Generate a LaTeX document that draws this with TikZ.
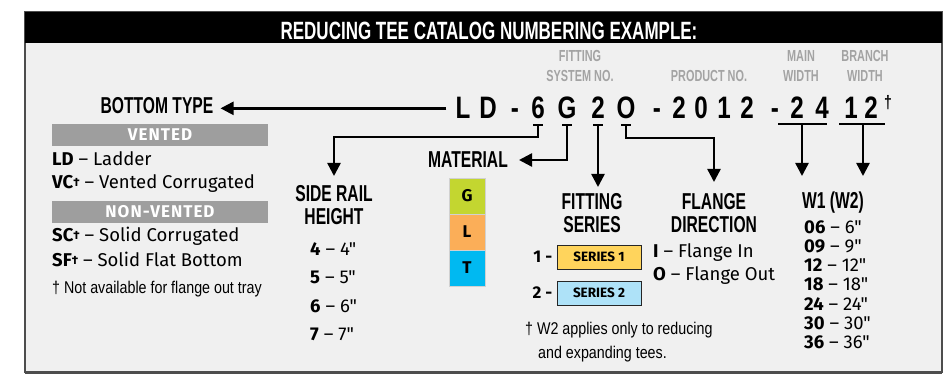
\documentclass[tikz,border=0pt]{standalone}
\usepackage{fontspec}
\setmainfont{Fira Sans}[Ligatures=TeXOff]
\newfontfamily\condfont[FakeStretch=0.68]{Liberation Sans}
\newfontfamily\codefont[FakeStretch=0.78]{Liberation Sans}
\newfontfamily\notefont[FakeStretch=0.84]{Liberation Sans}
\usetikzlibrary{arrows.meta, positioning, calc}

\definecolor{panelbg}{HTML}{F0F0F0}
\definecolor{framegray}{HTML}{4D4D4D}
\definecolor{labelgray}{HTML}{A3A3A3}
\definecolor{bargray}{HTML}{9E9E9E}
\definecolor{matG}{HTML}{C3D630}
\definecolor{matL}{HTML}{FBAE58}
\definecolor{matT}{HTML}{00B9F1}
\definecolor{seriesA}{HTML}{FFD45C}
\definecolor{seriesB}{HTML}{AEE2F8}

\newcommand{\smalldag}{\raisebox{2.5pt}{\fontsize{12}{12}\selectfont †}}

\tikzset{
  title/.style={font=\condfont\bfseries\fontsize{25}{25}\selectfont, text=white, inner sep=0pt, anchor=base},
  heading/.style={font=\condfont\bfseries\fontsize{23}{23}\selectfont, align=center, inner sep=0pt},
  graylabel/.style={font=\condfont\bfseries\fontsize{16}{16}\selectfont, text=labelgray, inner sep=0pt, anchor=base},
  codechar/.style={font=\codefont\bfseries\fontsize{31}{31}\selectfont, inner sep=0pt, anchor=base},
  item/.style={font=\fontsize{18.5}{18.5}\selectfont, inner sep=0pt, anchor=base west},
  note/.style={font=\notefont\fontsize{17}{17}\selectfont, inner sep=0pt, anchor=base west},
  catbar/.style={fill=bargray, text=white, font=\bfseries\fontsize{17}{17}\selectfont\addfontfeature{LetterSpace=6},
    minimum width=216pt, minimum height=22pt, inner sep=0pt},
  matbox/.style={fill=#1, draw=black!18, line width=0.8pt, minimum width=36pt,
    minimum height=36pt, inner sep=0pt, font=\bfseries\fontsize{17}{17}\selectfont},
  seriesbox/.style={fill=#1, draw=black!85, line width=1pt, minimum width=84pt,
    minimum height=24pt, inner sep=0pt, font=\bfseries\fontsize{13.5}{13.5}\selectfont},
  conn/.style={line width=2.4pt, -{Triangle[width=13pt,length=13pt]}},
  tick/.style={line width=2.2pt},
}

\begin{document}
\begin{tikzpicture}[x=1pt,y=-1pt]
  \useasboundingbox (0,0) rectangle (948,377);

  % frame and header band
  \draw[framegray, line width=1.6pt, fill=panelbg] (25,12) rectangle (942,372);
  \draw[framegray, line width=3pt] (25,372) -- (942,372);
  \fill[black] (25,12) rectangle (942,43);
  \node[title] (title) at (489,40) {REDUCING TEE CATALOG NUMBERING EXAMPLE:};

  % gray labels above the number
  \node[graylabel] (fitA) at (580,62) {FITTING};
  \node[graylabel] (fitB) at (580,82) {SYSTEM NO.};
  \node[graylabel] (prod) at (709,82) {PRODUCT NO.};
  \node[graylabel] (mainA) at (801,62) {MAIN};
  \node[graylabel] (mainB) at (801,82) {WIDTH};
  \node[graylabel] (brA) at (865,62) {BRANCH};
  \node[graylabel] (brB) at (865,82) {WIDTH};

  % catalog number, one node per character
  \foreach \x/\c/\n in {463/L/L, 488/D/D, 515/-/dA, 538/6/six, 567/G/mat, 598/2/ser,
      626/O/fl, 657/-/dB, 679/2/pA, 701/0/pB, 724/1/pC, 747/2/pD, 775/-/dC,
      797/2/wA, 822/4/wB, 851/1/bA, 871/2/bB}
    \node[codechar] (c\n) at (\x,119) {\c};
  \node[codechar, font=\codefont\bfseries\fontsize{18}{18}\selectfont] (cdag) at (888,109) {†};

  % headings
  \node[heading, anchor=base] (bottom) at (157,114) {BOTTOM TYPE};
  \node[heading, anchor=north] (siderail) at (334,185) {SIDE RAIL\\HEIGHT};
  \node[heading, anchor=east] (material) at (508,160) {MATERIAL};
  \node[heading, anchor=north] (fitting) at (592,193) {FITTING\\SERIES};
  \node[heading, anchor=north] (flange) at (714,193) {FLANGE\\DIRECTION};
  \node[heading, anchor=north] (width) at (833,192) {W1 (W2)};

  % tick points under the characters
  \foreach \n in {six, mat, ser, fl}
    \path (c\n.base) ++(0,6) coordinate (t\n);
  \foreach \n in {six, mat, ser, fl}
    \draw[tick] ($(t\n)+(-5,0)$) -- ($(t\n)+(5,0)$);
  \draw[tick] ($(cwA.base)+(-19,5)$) -- ($(cwB.base)+(5,5)$);
  \draw[tick] ($(cbA.base)+(-12,5)$) -- ($(cbB.base)+(14,5)$);
  \path (cwA.base) ++(5,5) coordinate (tw);
  \path (cbA.base) ++(12,5) coordinate (tb);

  % connectors
  \draw[conn, shorten <=9pt, shorten >=7pt] (cL.west) -- (cL.west -| bottom.east);
  \draw[conn] (tsix) -- ++(0,12) -| ([yshift=9pt]siderail.north);
  \draw[conn] (tmat) |- ([xshift=11pt]material.east);
  \draw[conn, shorten >=6pt] (tser) -- (tser |- fitting.north);
  \draw[conn] (tfl) -- ++(0,13) -| ([yshift=11pt]flange.north);
  \draw[conn, shorten >=16pt] (tw) -- (tw |- width.north);
  \draw[conn, shorten >=16pt] (tb) -- (tb |- width.north);

  % bottom type legend
  \node[catbar] (vented) at (160,135) {VENTED};
  \node[item] (ld) at (52,166) {\textbf{LD} – Ladder};
  \node[item] (vc) at (52,189) {\textbf{VC\smalldag} – Vented Corrugated};
  \node[catbar] (nonvented) at (160,211.5) {NON-VENTED};
  \node[item] (sc) at (52,241.5) {\textbf{SC\smalldag} – Solid Corrugated};
  \node[item] (sf) at (52,266.5) {\textbf{SF\smalldag} – Solid Flat Bottom};
  \node[note] (notflange) at (52,293) {† Not available for flange out tray};

  % side rail heights
  \foreach \v/\y in {4/255, 5/283.5, 6/312, 7/340.5}
    \node[item] (h\v) at (310,\y) {\textbf{\v} – \v"};

  % material
  \node[matbox=matG] (mG) at (467,196) {G};
  \node[matbox=matL] (mL) at (467,232) {L};
  \node[matbox=matT] (mT) at (467,268) {T};

  % fitting series
  \node[seriesbox=seriesA] (sA) at (599,257) {SERIES 1};
  \node[seriesbox=seriesB] (sB) at (599,293) {SERIES 2};
  \node[item, font=\bfseries\fontsize{17}{17}\selectfont, anchor=east] (nA) at ([xshift=-4pt]sA.west) {1 -};
  \node[item, font=\bfseries\fontsize{17}{17}\selectfont, anchor=east] (nB) at ([xshift=-4pt]sB.west) {2 -};
  \node[note] (wnoteA) at (525,334) {† W2 applies only to reducing};
  \node[note] (wnoteB) at (538,358) {and expanding tees.};

  % flange direction
  \node[item] (fin) at (653,257) {\textbf{I} – Flange In};
  \node[item] (fout) at (653,280) {\textbf{O} – Flange Out};

  % widths
  \foreach \a/\b [count=\i from 0] in {06/6, 09/9, 12/12, 18/18, 24/24, 30/30, 36/36}
    \node[item] (w\a) at (804,{233+19.3*\i}) {\textbf{\a} – \b"};
\end{tikzpicture}
\end{document}
